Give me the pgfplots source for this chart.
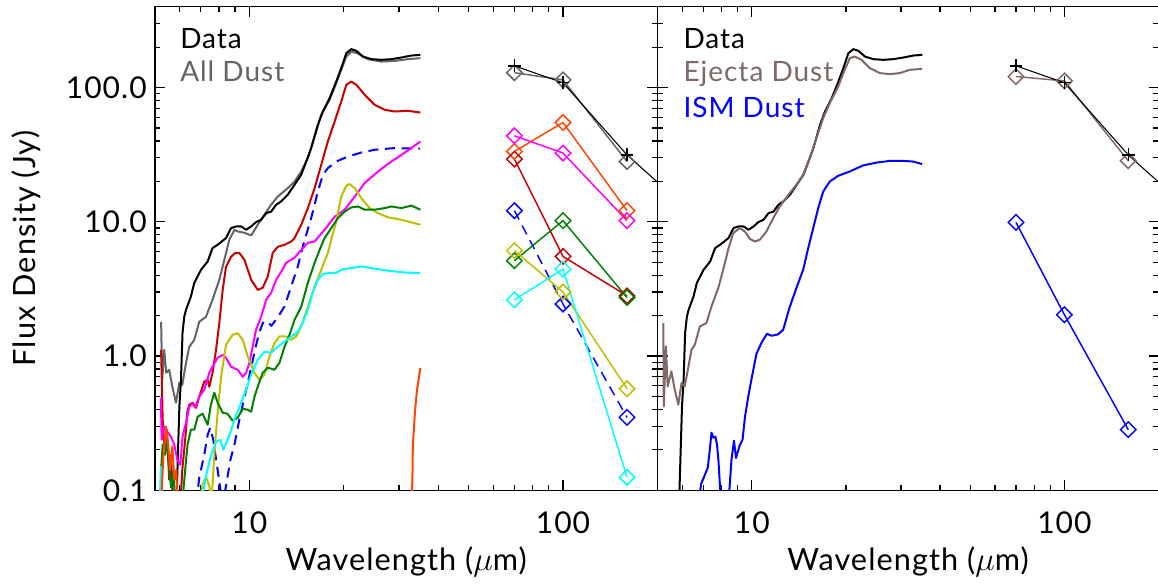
\documentclass[border=0pt]{standalone}
\usepackage{pgfplots}
\pgfplotsset{compat=1.18}
\usepackage{pgfplotstable}
\usepackage{fontspec}
\setmainfont{Lato}[LetterSpace=3.5]
\definecolor{cgray}{RGB}{100,100,100}
\definecolor{cejecta}{RGB}{128,104,104}
\definecolor{cred}{RGB}{200,0,0}
\definecolor{corange}{RGB}{255,69,0}
\definecolor{cmag}{RGB}{255,0,255}
\definecolor{colive}{RGB}{190,190,0}
\definecolor{cgreen}{RGB}{0,128,0}
\definecolor{ccyan}{RGB}{0,255,255}
\definecolor{cblue}{RGB}{0,0,255}

\pgfplotstableread{
x y
5.86 0.07
5.87 0.1
5.98 0.421
6.05 0.666
6.12 1.49
6.20 1.97
6.28 2.21
6.51 2.78
6.67 3.50
7.01 4.39
7.36 5.06
7.63 6.37
7.92 6.74
8.42 7.56
8.74 8.98
9.07 9.23
9.41 9.23
9.76 8.72
10.13 9.23
10.50 9.95
10.90 10.35
11.31 11.6
11.73 11.9
12.17 13.4
12.63 14.2
13.25 15.9
13.93 18.9
14.63 22.4
15.18 28.1
15.74 35.4
16.53 52.8
17.15 66.3
18.02 83.4
18.92 110.8
19.63 139.5
20.37 180.4
21.13 193.2
21.93 187.6
23.01 170.1
24.48 162.7
26.35 160.8
28.37 162.7
30.53 167.3
32.86 173.1
35.1 175.2
}\datatab

\pgfplotstableread{
x y
70 145
100 108.5
160 31.5
250 12.4
}\dataphot

\tikzset{
  specline/.style={line width=1.5pt, line join=round},
  photline/.style={line width=1.1pt, mark=square, mark size=4.1pt,
    mark options={solid, rotate=45, line width=1.1pt}},
  datphot/.style={black, line width=0.8pt, mark=+, mark size=4.8pt, mark options={line width=1pt}},
  legtxt/.style={anchor=base west, inner sep=0pt, font=\fontsize{21}{24}\selectfont},
}

\begin{document}
\begin{tikzpicture}
\path[use as bounding box] (0,0) rectangle (868.5pt,438pt);

% ---------------- Left panel ----------------
\begin{axis}[
    at={(116.25pt,70.275pt)}, anchor=south west,
    scale only axis, width=376.8pt, height=362.7pt,
    xmode=log, ymode=log,
    xmin=5, xmax=200, ymin=0.1, ymax=400,
    tick align=inside, xtick pos=both, ytick pos=both,
    major tick length=7.5pt, minor tick length=4pt,
    xtick={10,100}, xticklabels={\mbox{10},\mbox{100}},
    minor xtick={6,7,8,9,20,30,40,50,60,70,80,90},
    ytick={0.1,1,10,100},
    yticklabels={\mbox{0.1},\mbox{1.0},\mbox{10.0},\mbox{100.0}},
    minor ytick={0.2,0.3,0.4,0.5,0.6,0.7,0.8,0.9,2,3,4,5,6,7,8,9,20,30,40,50,60,70,80,90,200,300},
    axis line style={line width=1.1pt, black},
    tick style={line width=0.9pt, black},
    tick label style={font=\fontsize{22.5}{26}\selectfont},
    xticklabel style={anchor=north, inner sep=0pt, yshift=-16pt},
    yticklabel style={anchor=east, inner sep=0pt, xshift=-6pt},
    label style={font=\fontsize{23}{26}\selectfont},
    xlabel={Wavelength ($\mu$m)},
    xlabel style={at={(axis description cs:0.5,0)}, anchor=base, yshift=-60pt},
    ylabel={Flux Density (Jy)},
    ylabel style={at={(axis description cs:-0.238,0.5)}, anchor=base},
]
% All Dust
\addplot[specline, cgray, no markers] coordinates {
(5.23,1.80) (5.27,0.666) (5.35,1.11) (5.43,0.751) (5.55,0.791) (5.68,0.590)
(5.83,0.449) (5.98,0.632) (6.11,0.611) (6.28,0.891) (6.43,1.17) (6.67,1.32)
(6.92,1.80) (7.27,1.96) (7.63,2.63) (8.02,3.70) (8.32,5.21) (8.63,7.35)
(8.96,8.72) (9.18,8.47) (9.64,8.28) (10.13,7.91) (10.63,9.50) (11.17,11.3)
(11.73,13.4) (12.31,15.4) (13.25,17.8) (13.93,19.95) (14.63,23.7) (15.36,29.8)
(16.14,43.2) (16.95,62.6) (18.02,81.0) (18.92,107.8) (19.63,135.5) (20.37,170.1)
(21.13,185.4) (22.1,180) (23.84,162.7) (26.35,156.1) (29.1,158) (32.05,162.7)
(35.1,165.5)};
% Data
\addplot[specline, black, no markers] table[x=x,y=y] {\datatab};
% red
\addplot[specline, cred, no markers] coordinates {
(5.23,1.114) (5.29,0.336) (5.37,0.200) (5.45,0.283) (5.55,0.120) (5.63,0.184)
(5.72,0.06) (5.98,0.06) (6.11,0.142) (6.24,0.238) (6.34,0.385) (6.43,0.434)
(6.59,0.449) (6.76,0.412) (6.92,0.498) (7.18,0.644) (7.36,0.666) (7.45,0.590)
(7.63,0.751) (7.83,1.114) (8.02,1.77) (8.22,3.11) (8.42,4.62) (8.74,5.49)
(9.02,5.87) (9.29,5.85) (9.64,5.21) (10.13,3.70) (10.63,3.11) (11.03,3.23)
(11.44,3.90) (11.87,5.87) (12.31,6.51) (12.94,6.74) (13.59,7.13) (13.93,7.56)
(14.63,9.50) (15.36,12.65) (16.14,17.8) (16.95,26.6) (17.79,39.6) (18.70,55.8)
(19.63,78.7) (20.37,104.7) (21.13,110.8) (21.93,104.7) (23.32,88.2) (25.10,74.3)
(27.02,68.2) (29.09,66.3) (32.05,67.1) (35.1,65.1)};
% blue dashed
\addplot[specline, cblue, no markers, dash pattern=on 7.5pt off 5pt] coordinates {
(6.77,0.08) (6.92,0.124) (7.18,0.184) (7.36,0.259) (7.50,0.292) (7.67,0.238)
(7.92,0.142) (8.14,0.09) (8.38,0.101) (8.70,0.169) (8.96,0.219) (9.29,0.336)
(9.64,0.489) (10.13,0.819) (10.45,1.15) (10.77,1.52) (11.08,1.80) (11.41,1.80)
(11.75,1.68) (12.29,1.93) (12.94,2.34) (13.59,3.30) (14.27,4.65) (14.80,6.55)
(15.18,8.00) (15.74,10.65) (16.53,16.8) (17.15,22.4) (17.79,25.1) (18.92,28.1)
(20.61,30.6) (22.75,32.8) (25.10,34.4) (29.09,35.4) (34.97,35.0)};
% magenta
\addplot[specline, cmag, no markers] coordinates {
(5.22,0.489) (5.25,0.238) (5.35,0.298) (5.47,0.273) (5.62,0.251) (5.76,0.219)
(5.89,0.169) (6.02,0.155) (6.12,0.251) (6.28,0.319) (6.43,0.419) (6.58,0.442)
(6.72,0.412) (6.92,0.498) (7.18,0.561) (7.45,0.751) (7.63,0.832) (7.92,0.971)
(8.22,1.02) (8.42,0.971) (8.74,0.832) (9.18,0.791) (9.52,0.701) (9.76,0.751)
(10.0,0.891) (10.24,1.17) (10.50,1.57) (10.90,1.96) (11.31,2.63) (11.73,2.96)
(12.17,3.70) (12.63,4.24) (13.1,4.95) (13.93,5.40) (14.45,5.98) (15.36,6.98)
(16.14,7.13) (17.37,8.72) (18.70,10.9) (20.12,12.3) (21.67,15.4) (23.32,19.5)
(26.35,24.8) (28.37,28.1) (30.53,31.5) (32.86,35.4) (35.1,39.7)};
% olive
\addplot[specline, colive, no markers] coordinates {
(6.92,0.08) (7.09,0.110) (7.27,0.126) (7.45,0.108) (7.56,0.08) (7.79,0.238)
(7.96,0.434) (8.14,0.726) (8.42,1.21) (8.84,1.44) (9.18,1.48) (9.52,1.32)
(9.88,0.993) (10.38,0.747) (10.77,0.666) (11.17,0.726) (11.59,0.993) (12.02,1.25)
(12.47,1.40) (13.1,1.40) (13.59,1.32) (14.1,1.40) (14.63,1.66) (15.36,2.34)
(16.14,3.30) (16.95,4.39) (17.79,5.85) (18.24,7.35) (18.92,10.05) (19.63,15.4)
(20.37,18.6) (20.88,19.1) (21.67,17.8) (22.75,15.0) (24.17,12.65) (25.70,11.6)
(27.66,10.8) (30.53,10.35) (35.1,9.50)};
% green
\addplot[specline, cgreen, no markers] coordinates {
(5.23,0.142) (5.29,0.219) (5.39,0.184) (5.47,0.238) (5.55,0.142) (5.63,0.1045)
(5.72,0.142) (5.80,0.08) (6.11,0.08) (6.24,0.142) (6.35,0.219) (6.51,0.283)
(6.67,0.283) (6.84,0.353) (7.09,0.372) (7.36,0.308) (7.54,0.434) (7.73,0.533)
(7.92,0.449) (8.22,0.378) (8.51,0.372) (8.84,0.330) (9.18,0.347) (9.52,0.405)
(9.88,0.398) (10.13,0.385) (10.38,0.498) (10.63,0.591) (11.03,0.751) (11.44,0.819)
(12.02,0.791) (12.47,0.891) (12.94,1.17) (13.43,1.44) (13.93,1.86) (14.63,2.33)
(15.36,3.51) (16.14,4.95) (16.95,6.63) (17.37,7.56) (18.24,8.98) (19.15,10.65)
(20.13,11.9) (21.13,12.8) (22.18,13.0) (23.32,12.3) (25.10,12.3) (27.02,12.65)
(28.37,13.0) (30.53,12.65) (32.86,13.2) (35.1,12.3)};
% cyan
\addplot[specline, ccyan, no markers] coordinates {
(5.18,0.08) (5.22,0.150) (5.29,0.08)};
\addplot[specline, ccyan, no markers] coordinates {
(7.08,0.09) (7.29,0.1306) (7.54,0.181) (7.83,0.230) (8.08,0.238) (8.26,0.2006)
(8.63,0.255) (8.96,0.336) (9.41,0.449) (9.76,0.561) (10.13,0.726) (10.63,0.939)
(11.17,1.076) (11.73,1.058) (12.31,1.17) (12.94,1.28) (13.59,1.39) (14.27,1.52)
(14.80,1.77) (15.36,2.21) (15.92,2.96) (16.53,3.70) (17.15,4.08) (18.02,4.15)
(18.92,4.17) (19.87,4.44) (21.13,4.52) (22.75,4.65) (24.48,4.52) (27.66,4.32)
(31.31,4.19) (34.97,4.15)};
% orange
\addplot[specline, corange, no markers] coordinates {
(5.23,0.08) (5.31,0.169) (5.42,0.298) (5.51,0.219) (5.59,0.142) (5.68,0.213)
(5.76,0.120) (5.85,0.142) (5.89,0.08)};
\addplot[specline, corange, no markers] coordinates {
(32.9,0.06) (33.0,0.1) (33.1,0.120) (33.2,0.212) (33.70,0.376) (34.23,0.561) (35.1,0.814)};

% photometry
\addplot[photline, cgray] coordinates {(70,129) (100,114) (160,28.1)};
\addplot[datphot] table[x=x,y=y] {\dataphot};
\addplot[photline, corange] coordinates {(70,33.4) (100,54.9) (160,12.1)};
\addplot[photline, cmag] coordinates {(70,43.7) (100,32.5) (160,10.2)};
\addplot[photline, cred] coordinates {(70,29.3) (100,5.52) (160,2.81)};
\addplot[photline, cblue, dash pattern=on 7.5pt off 5pt] coordinates {(70,12.1) (100,2.44) (160,0.349)};
\addplot[photline, cgreen] coordinates {(70,5.13) (100,10.2) (160,2.73)};
\addplot[photline, colive] coordinates {(70,6.1) (100,3.0) (160,0.571)};
\addplot[photline, ccyan] coordinates {(70,2.62) (100,4.44) (160,0.125)};

\node[legtxt, text=black] at (axis description cs:0.0498,0.914) {Data};
\node[legtxt, text=cgray] at (axis description cs:0.0498,0.8446) {All Dust};
\end{axis}

% ---------------- Right panel ----------------
\begin{axis}[
    at={(493.275pt,70.275pt)}, anchor=south west,
    scale only axis, width=375.6pt, height=362.7pt,
    xmode=log, ymode=log,
    xmin=5, xmax=200, ymin=0.1, ymax=400,
    tick align=inside, xtick pos=both, ytick pos=both,
    major tick length=7.5pt, minor tick length=4pt,
    xtick={10,100}, xticklabels={\mbox{10},\mbox{100}},
    minor xtick={6,7,8,9,20,30,40,50,60,70,80,90},
    ytick={0.1,1,10,100},
    yticklabels={},
    minor ytick={0.2,0.3,0.4,0.5,0.6,0.7,0.8,0.9,2,3,4,5,6,7,8,9,20,30,40,50,60,70,80,90,200,300},
    axis line style={line width=1.1pt, black},
    tick style={line width=0.9pt, black},
    tick label style={font=\fontsize{22.5}{26}\selectfont},
    xticklabel style={anchor=north, inner sep=0pt, yshift=-16pt},
    label style={font=\fontsize{23}{26}\selectfont},
    xlabel={Wavelength ($\mu$m)},
    xlabel style={at={(axis description cs:0.5,0)}, anchor=base, yshift=-60pt},
]
\addplot[specline, black, no markers] table[x=x,y=y] {\datatab};
% Ejecta dust
\addplot[specline, cejecta, no markers] coordinates {
(5.21,1.76) (5.23,0.421) (5.31,1.18) (5.38,0.594) (5.53,0.768) (5.67,0.561)
(5.82,0.434) (5.96,0.630) (6.10,0.594) (6.26,0.814) (6.41,1.114) (6.57,1.21)
(6.82,1.66) (7.16,1.76) (7.43,2.34) (7.81,3.21) (8.10,4.39) (8.40,6.19)
(8.72,8.24) (9.15,8.98) (9.50,8.47) (9.85,7.47) (10.22,7.13) (10.61,7.35)
(11.14,8.47) (11.71,10.65) (12.29,13.0) (13.23,16.4) (13.90,18.9) (14.60,22.4)
(15.33,29.8) (16.10,42.0) (16.92,59.2) (17.76,76.5) (18.89,101.7) (19.83,135.5)
(20.58,165.5) (21.35,170.1) (22.42,160.8) (23.84,139.5) (25.67,128.0) (27.63,125.9)
(29.74,128.0) (32.02,135.5) (35.07,137.8)};
% ISM dust
\addplot[specline, cblue, no markers] coordinates {
(6.75,0.08) (6.89,0.112) (7.06,0.1285) (7.23,0.147) (7.34,0.2006) (7.43,0.2685)
(7.54,0.246) (7.65,0.251) (7.74,0.219) (7.82,0.169) (7.97,0.08)};
\addplot[specline, cblue, no markers] coordinates {
(8.42,0.08) (8.61,0.169) (8.77,0.234) (8.90,0.174) (9.14,0.215) (9.34,0.238)
(9.51,0.353) (9.74,0.498) (10.01,0.701) (10.35,1.04) (10.74,1.256) (11.18,1.466)
(11.56,1.416) (12.14,1.45) (12.60,1.57) (13.20,2.29) (13.90,3.23) (14.60,4.39)
(15.15,6.37) (15.72,8.98) (16.31,12.65) (16.92,16.8) (17.76,19.95) (18.89,22.0)
(20.58,23.7) (22.72,26.3) (25.05,27.6) (27.63,28.4) (30.49,28.4) (32.82,28.1)
(35.07,26.9)};
% photometry
\addplot[photline, cejecta] coordinates {(70,120.7) (100,112) (160,28.5)};
\addplot[datphot] table[x=x,y=y] {\dataphot};
\addplot[photline, cblue] coordinates {(70,9.9) (100,2.03) (160,0.283)};

\node[legtxt, text=black] at (axis description cs:0.0511,0.914) {Data};
\node[legtxt, text=cejecta] at (axis description cs:0.0511,0.8446) {Ejecta Dust};
\node[legtxt, text=cblue] at (axis description cs:0.0511,0.7713) {ISM Dust};
\end{axis}
\end{tikzpicture}
\end{document}
